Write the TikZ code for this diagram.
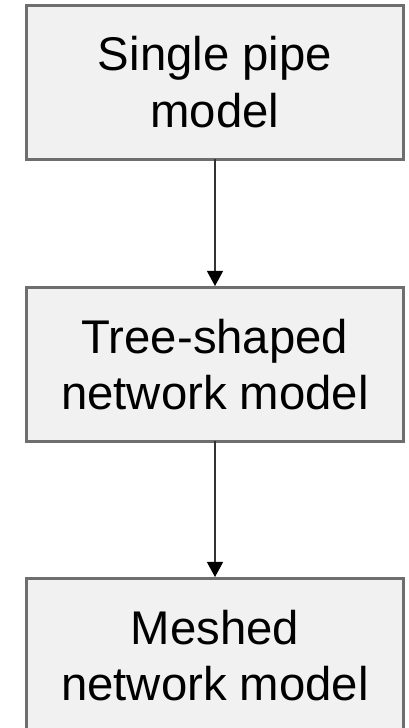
\documentclass[tikz,border=0pt]{standalone}
\usepackage{fontspec}
\setmainfont{Liberation Sans}
\usepackage{xcolor}
\usepackage{tikz}
\usetikzlibrary{arrows.meta,positioning}

\definecolor{boxfill}{HTML}{F1F1F1}
\definecolor{boxline}{HTML}{6E6E6E}
\definecolor{linkline}{HTML}{333333}

\begin{document}
\begin{tikzpicture}[x=1pt, y=1pt,
  modelbox/.style={draw=boxline, fill=boxfill, line width=3pt, outer sep=0pt,
    minimum width=377pt, minimum height=154pt, align=center,
    font=\fontsize{47.3}{56.8}\selectfont},
  link/.style={draw=linkline, line width=1.2pt,
    -{Triangle[width=16pt,length=15pt,black]}, shorten >=1.5pt}]
  % page frame
  \useasboundingbox (0,0) rectangle (408,728);
  % === Model boxes, top to bottom ===
  \node[modelbox] (single) at (215,645.5) {Single pipe\\model};
  \node[modelbox, below=128pt of single] (tree) {Tree-shaped\\network model};
  \node[modelbox, below=137pt of tree] (meshed) {Meshed\\network model};
  % Arrows between the boxes
  \draw[link] (single) -- (tree);
  \draw[link] (tree) -- (meshed);
\end{tikzpicture}
\end{document}
